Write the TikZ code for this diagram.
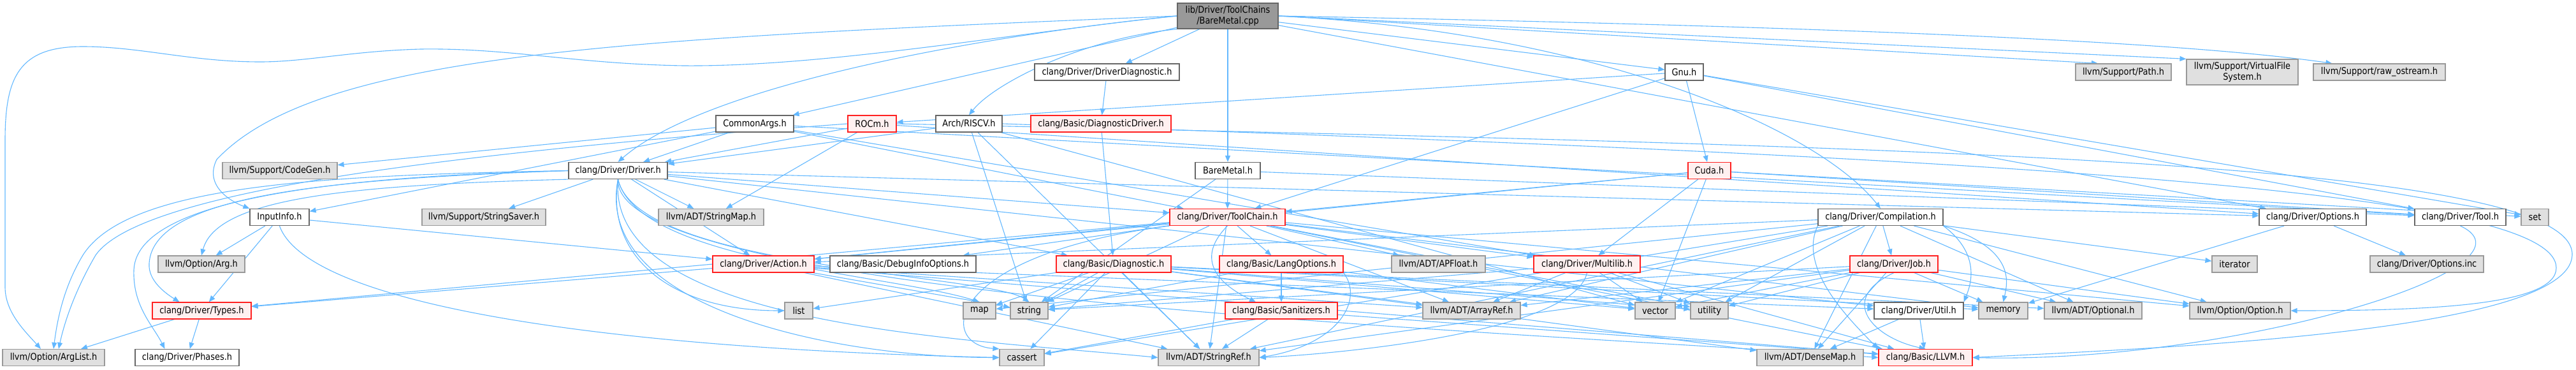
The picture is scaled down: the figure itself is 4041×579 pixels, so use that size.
\documentclass[tikz,border=0pt]{standalone}
\usepackage{fontspec}
\setmainfont{DejaVu Sans}[FakeStretch=0.88]
\usetikzlibrary{arrows.meta, backgrounds}

\definecolor{depblue}{HTML}{63B8FF}
\definecolor{srcgrey}{HTML}{999999}
\definecolor{rimgrey}{HTML}{666666}
\definecolor{sysgrey}{HTML}{E0E0E0}
\definecolor{sysrim}{HTML}{999999}
\definecolor{refpink}{HTML}{FFF0F0}
\definecolor{refrim}{HTML}{FF2020}

\begin{document}
\begin{tikzpicture}[x=1pt, y=-1pt,
    box/.style={rectangle, draw, line width=1.2pt, minimum height=26pt, inner sep=0pt, align=center, font=\fontsize{14.7}{17}\selectfont},
    srcfile/.style={box, fill=srcgrey, draw=rimgrey},
    projhdr/.style={box, fill=white, draw=rimgrey},
    refhdr/.style={box, fill=refpink, draw=refrim},
    syshdr/.style={box, fill=sysgrey, draw=sysrim},
    dep/.style={draw=depblue, line width=1.1pt, -{Triangle[length=10pt, width=8pt]}}
]
\useasboundingbox (0,0) rectangle (4041,579);

    % --- source file ---
    \node[srcfile, minimum width=158pt, minimum height=40pt] (cpp) at (1926,25) {lib/Driver/ToolChains\\/BareMetal.cpp};

    % --- row 1 ---
    \node[projhdr, minimum width=227pt] (ddiag) at (1736.5,113) {clang/Driver/DriverDiagnostic.h};
    \node[projhdr, minimum width=60pt] (gnu) at (2642,113) {Gnu.h};
    \node[syshdr, minimum width=150pt] (supath) at (3331,113) {llvm/Support/Path.h};
    \node[syshdr, minimum width=175pt, minimum height=40pt] (vfs) at (3517.5,113) {llvm/Support/VirtualFile\\System.h};
    \node[syshdr, minimum width=207pt] (rawos) at (3732.5,113) {llvm/Support/raw\_ostream.h};

    % --- row 2 ---
    \node[projhdr, minimum width=122pt] (cargs) at (1184,194) {CommonArgs.h};
    \node[refhdr, minimum width=76pt] (rocm) at (1368,194) {ROCm.h};
    \node[projhdr, minimum width=104pt] (riscv) at (1520,194) {Arch/RISCV.h};
    \node[refhdr, minimum width=220pt] (diagdrv) at (1727,194) {clang/Basic/DiagnosticDriver.h};

    % --- row 3 ---
    \node[syshdr, minimum width=180pt] (codegen) at (439,267.5) {llvm/Support/CodeGen.h};
    \node[projhdr, minimum width=155pt] (driver) at (969.5,267.5) {clang/Driver/Driver.h};
    \node[projhdr, minimum width=102pt] (bmh) at (1926,267.5) {BareMetal.h};
    \node[refhdr, minimum width=67pt] (cuda) at (2681.5,267.5) {Cuda.h};

    % --- row 4 ---
    \node[projhdr, minimum width=93pt] (input) at (438.5,340.5) {InputInfo.h};
    \node[syshdr, minimum width=194pt] (saver) at (759,340.5) {llvm/Support/StringSaver.h};
    \node[syshdr, minimum width=165pt] (strmap) at (1115.5,340.5) {llvm/ADT/StringMap.h};
    \node[refhdr, minimum width=181pt] (tchain) at (1925.5,340.5) {clang/Driver/ToolChain.h};
    \node[projhdr, minimum width=196pt] (comp) at (2950,340.5) {clang/Driver/Compilation.h};
    \node[projhdr, minimum width=168pt] (opts) at (3628,340.5) {clang/Driver/Options.h};
    \node[projhdr, minimum width=143pt] (tool) at (3859.5,340.5) {clang/Driver/Tool.h};
    \node[syshdr, minimum width=43pt] (stdset) at (3976.5,340.5) {set};

    % --- row 5 ---
    \node[syshdr, minimum width=136pt] (arg) at (316,414) {llvm/Option/Arg.h};
    \node[refhdr, minimum width=159pt] (action) at (1197.5,414) {clang/Driver/Action.h};
    \node[projhdr, minimum width=229pt] (dbginfo) at (1416.5,414) {clang/Basic/DebugInfoOptions.h};
    \node[refhdr, minimum width=180pt] (diag) at (1747,414) {clang/Basic/Diagnostic.h};
    \node[refhdr, minimum width=194pt] (langopts) at (2010,414) {clang/Basic/LangOptions.h};
    \node[syshdr, minimum width=147pt] (apfloat) at (2256.5,414) {llvm/ADT/APFloat.h};
    \node[refhdr, minimum width=167pt] (multilib) at (2489.5,414) {clang/Driver/Multilib.h};
    \node[refhdr, minimum width=138pt] (job) at (2971,414) {clang/Driver/Job.h};
    \node[syshdr, minimum width=71pt] (stditer) at (3505.5,414) {iterator};
    \node[syshdr, minimum width=178pt] (optinc) at (3807,414) {clang/Driver/Options.inc};

    % --- row 6 ---
    \node[refhdr, minimum width=155pt] (types) at (316.5,487) {clang/Driver/Types.h};
    \node[syshdr, minimum width=44pt] (stdlist) at (1253,487) {list};
    \node[syshdr, minimum width=51pt] (stdmap) at (1536.5,487) {map};
    \node[syshdr, minimum width=59pt] (stdstring) at (1614.5,487) {string};
    \node[refhdr, minimum width=176pt] (sanit) at (2010,487) {clang/Basic/Sanitizers.h};
    \node[syshdr, minimum width=153pt] (arrayref) at (2308.5,487) {llvm/ADT/ArrayRef.h};
    \node[syshdr, minimum width=63pt] (stdvector) at (2596.5,487) {vector};
    \node[syshdr, minimum width=59pt] (stdutility) at (2681.5,487) {utility};
    \node[projhdr, minimum width=140pt] (util) at (3010,487) {clang/Driver/Util.h};
    \node[syshdr, minimum width=77pt] (stdmemory) at (3142.5,487) {memory};
    \node[syshdr, minimum width=153pt] (optional) at (3283.5,487) {llvm/ADT/Optional.h};
    \node[syshdr, minimum width=158pt] (option) at (3514,487) {llvm/Option/Option.h};

    % --- row 7 ---
    \node[syshdr, minimum width=160pt] (arglist) at (84,560.5) {llvm/Option/ArgList.h};
    \node[projhdr, minimum width=163pt] (phases) at (293.5,560.5) {clang/Driver/Phases.h};
    \node[syshdr, minimum width=70pt] (stdcassert) at (1603,560.5) {cassert};
    \node[syshdr, minimum width=158pt] (strref) at (1896,560.5) {llvm/ADT/StringRef.h};
    \node[syshdr, minimum width=167pt] (densemap) at (2839.5,560.5) {llvm/ADT/DenseMap.h};
    \node[refhdr, minimum width=147pt] (llvmh) at (3020.5,560.5) {clang/Basic/LLVM.h};

\begin{scope}[on background layer]
    % --- BareMetal.cpp ---
    \draw[dep] (cpp) -- (ddiag);
    \draw[dep] (cpp) -- (bmh);
    \draw[dep] (cpp) -- (gnu);
    \draw[dep] (cpp.east) -- ([xshift=-40pt]supath.north);
    \draw[dep] (cpp.east) -- (vfs.north west);
    \draw[dep] (cpp.east) .. controls (2800,40) and (3400,62) .. ([xshift=30pt]rawos.north west);
    \draw[dep] (cpp) -- (opts);
    \draw[dep] (cpp) -- (cargs);
    \draw[dep] (cpp.south west) .. controls (1700,60) and (1560,130) .. (riscv.north);
    \draw[dep] (cpp.west) .. controls (1500,60) and (1100,140) .. (driver.north);
    \draw[dep] (cpp.east) .. controls (2500,50) and (2850,200) .. (comp.north);
    \draw[dep] (cpp.west) .. controls (1000,60) and (500,80) .. (340,250) .. controls (320,290) and (360,315) .. (input.north west);
    \draw[dep] (cpp.west) .. controls (1600,50) and (1300,105) .. (1072,103) .. controls (900,100) and (800,75) .. (660,77) .. controls (550,80) and (480,97) .. (408,97) .. controls (300,97) and (220,73) .. (130,73) .. controls (30,73) and (8,120) .. (8,220) -- (8,450) .. controls (8,490) and (40,520) .. ([xshift=-20pt]arglist.north);

    % --- CommonArgs.h ---
    \draw[dep] (cargs) -- (codegen);
    \draw[dep] (cargs) -- (input);
    \draw[dep] (cargs) -- (driver);
    \draw[dep] (cargs) -- (tchain);
    \draw[dep] (cargs) -- (multilib);
    \draw[dep] (cargs) -- (tool);

    % --- Gnu.h ---
    \draw[dep] (gnu) -- (cuda);
    \draw[dep] (gnu) -- (rocm);
    \draw[dep] (gnu) -- (tchain);
    \draw[dep] (gnu) -- (tool);
    \draw[dep] (gnu) -- (stdset);

    % --- ROCm.h ---
    \draw[dep] (rocm) -- (driver);
    \draw[dep] (rocm) -- (strmap);
    \draw[dep] (rocm) -- (opts);
    \draw[dep] (rocm.west) .. controls (700,240) and (220,300) .. (150,400) .. controls (115,460) and (100,510) .. ([xshift=8pt]arglist.north);
    \draw[dep] (rocm.east) .. controls (3000,230) and (4040,250) .. (4035,400) .. controls (4030,520) and (3400,545) .. (llvmh.east);

    % --- Arch/RISCV.h ---
    \draw[dep] (riscv) -- (driver);
    \draw[dep] (riscv) -- (strref);
    \draw[dep] (riscv) -- (stdstring);
    \draw[dep] (riscv) -- (stdvector);
    \draw[dep] (riscv.east) .. controls (3200,250) and (4010,300) .. (4010,420) .. controls (4010,480) and (3800,487) .. (option.east);

    % --- BareMetal.h ---
    \draw[dep] (bmh) -- (tchain);
    \draw[dep] (bmh) -- (tool);
    \draw[dep] (bmh) -- (stdstring);

    % --- Cuda.h ---
    \draw[dep] (cuda) -- (tchain);
    \draw[dep] (cuda) -- (action);
    \draw[dep] (cuda) -- (multilib);
    \draw[dep] (cuda) -- (stdvector);
    \draw[dep] (cuda) -- (tool);
    \draw[dep] (cuda) -- (stdset);

    % --- Driver.h ---
    \draw[dep] (driver) -- (saver);
    \draw[dep] (driver) -- (strmap);
    \draw[dep] (driver) -- (action);
    \draw[dep] (driver) -- (tchain);
    \draw[dep] (driver) -- (opts);
    \draw[dep] (driver) -- (diag);
    \draw[dep] (driver) -- (util);
    \draw[dep] (driver.west) .. controls (550,280) and (240,300) .. (234,413) .. controls (232,440) and (260,460) .. ([xshift=-35pt]types.north);
    \draw[dep] (driver.west) .. controls (600,275) and (215,300) .. (210,423) .. controls (208,480) and (240,510) .. ([xshift=-35pt]phases.north);
    \draw[dep] (driver.south west) .. controls (550,290) and (340,310) .. (arg.north);
    \draw[dep] (driver.west) .. controls (500,275) and (200,290) .. (130,400) .. controls (100,450) and (90,500) .. (arglist.north);
    \draw[dep] (driver.south) .. controls (950,400) and (1050,487) .. (stdlist.west);
    \draw[dep] (driver.south) .. controls (1000,410) and (1400,430) .. (stdmap.north);
    \draw[dep] (driver.south) .. controls (1000,420) and (1550,430) .. (stdstring.north);
    \draw[dep] (driver.south) .. controls (930,480) and (1300,560) .. (stdcassert.west);
    \draw[dep] (driver.south) .. controls (950,510) and (1500,530) .. (strref.west);
    \draw[dep] (driver.south) .. controls (960,470) and (2400,520) .. (llvmh.west);

    % --- InputInfo.h ---
    \draw[dep] (input) -- (arg);
    \draw[dep] (input) -- (types);
    \draw[dep] (input) -- (action);
    \draw[dep] (input.south) .. controls (480,470) and (900,545) .. (stdcassert.west);

    % --- ToolChain.h ---
    \draw[dep] (tchain) -- (dbginfo);
    \draw[dep] (tchain) -- (langopts);
    \draw[dep] (tchain) -- (apfloat);
    \draw[dep] (tchain) -- (multilib);
    \draw[dep] (tchain) -- (action);
    \draw[dep] (tchain) -- (types);
    \draw[dep] (tchain) -- (arrayref);
    \draw[dep] (tchain) -- (stdstring);
    \draw[dep] (tchain) -- (stdutility);
    \draw[dep] (tchain) -- (stdmemory);
    \draw[dep] (tchain) -- (option);
    \draw[dep] (tchain) -- (llvmh);
    \draw[dep] (tchain) -- (strref);
    \draw[dep] (tchain.south) .. controls (1880,400) and (1900,440) .. ([xshift=-40pt]sanit.north);
    \draw[dep] (tchain.south west) .. controls (1480,400) and (1470,540) .. (stdcassert.north west);

    % --- Compilation.h ---
    \draw[dep] (comp) -- (job);
    \draw[dep] (comp) -- (action);
    \draw[dep] (comp) -- (arrayref);
    \draw[dep] (comp) -- (densemap);
    \draw[dep] (comp) -- (optional);
    \draw[dep] (comp) -- (option);
    \draw[dep] (comp) -- (stditer);
    \draw[dep] (comp) -- (stdutility);
    \draw[dep] (comp) -- (stdvector);
    \draw[dep] (comp) -- (stdmap);
    \draw[dep] (comp) -- (strref);
    \draw[dep] (comp) -- (stdcassert);
    \draw[dep] (comp.south west) .. controls (2820,420) and (2900,500) .. (llvmh.north west);
    \draw[dep] (comp.south east) .. controls (3110,400) and (3090,450) .. (util.north east);
    \draw[dep] (comp.south east) .. controls (3160,390) and (3150,440) .. (stdmemory.north);

    % --- Job.h ---
    \draw[dep] (job) -- (densemap);
    \draw[dep] (job) -- (arrayref);
    \draw[dep] (job) -- (optional);
    \draw[dep] (job) -- (strref);
    \draw[dep] (job) -- (stdmemory);
    \draw[dep] (job) -- (stdstring);
    \draw[dep] (job) -- (stdutility);
    \draw[dep] (job) -- (stdvector);
    \draw[dep] (job) -- (option);
    \draw[dep] (job.south) .. controls (2880,470) and (2940,530) .. (llvmh.north);

    % --- Action.h ---
    \draw[dep] (action) -- (types);
    \draw[dep] (action) -- (util);
    \draw[dep] (action) -- (arrayref);
    \draw[dep] (action) -- (strref);
    \draw[dep] (action) -- (stdstring);
    \draw[dep] (action) -- (llvmh);

    % --- Diagnostic.h ---
    \draw[dep] (diag) -- (stdmap);
    \draw[dep] (diag) -- (stdstring);
    \draw[dep] (diag) -- (stdlist);
    \draw[dep] (diag) -- (stdcassert);
    \draw[dep] (diag) -- (strref);
    \draw[dep] (diag) -- (arrayref);
    \draw[dep] (diag) -- (densemap);
    \draw[dep] (diag) -- (optional);
    \draw[dep] (diag) -- (stdmemory);
    \draw[dep] (diag) -- (stdutility);
    \draw[dep] (diag) -- (stdvector);

    % --- LangOptions.h, Sanitizers.h ---
    \draw[dep] (langopts) -- (sanit);
    \draw[dep] (langopts) -- (stdstring);
    \draw[dep] (langopts) -- (stdvector);
    \draw[dep] (langopts.south east) .. controls (2140,470) and (2100,540) .. (strref.east);
    \draw[dep] (sanit) -- (strref);
    \draw[dep] (sanit) -- (stdcassert);
    \draw[dep] (sanit) -- (llvmh);

    % --- Multilib.h ---
    \draw[dep] (multilib) -- (arrayref);
    \draw[dep] (multilib) -- (stdvector);
    \draw[dep] (multilib) -- (stdutility);
    \draw[dep] (multilib) -- (stdstring);
    \draw[dep] (multilib) -- (llvmh);
    \draw[dep] (multilib.south) .. controls (2470,520) and (2100,555) .. (strref.east);

    % --- remaining headers ---
    \draw[dep] (ddiag) -- (diagdrv);
    \draw[dep] (diagdrv) -- (diag);
    \draw[dep] (types) -- (phases);
    \draw[dep] (types) -- (arglist);
    \draw[dep] (util) -- (densemap);
    \draw[dep] (util) -- (llvmh);
    \draw[dep] (opts) -- (optinc);
    \draw[dep] (opts) -- (stdmemory);
    \draw[dep] (tool.south) .. controls (4000,420) and (3500,570) .. (llvmh.east);
\end{scope}

\end{tikzpicture}
\end{document}
